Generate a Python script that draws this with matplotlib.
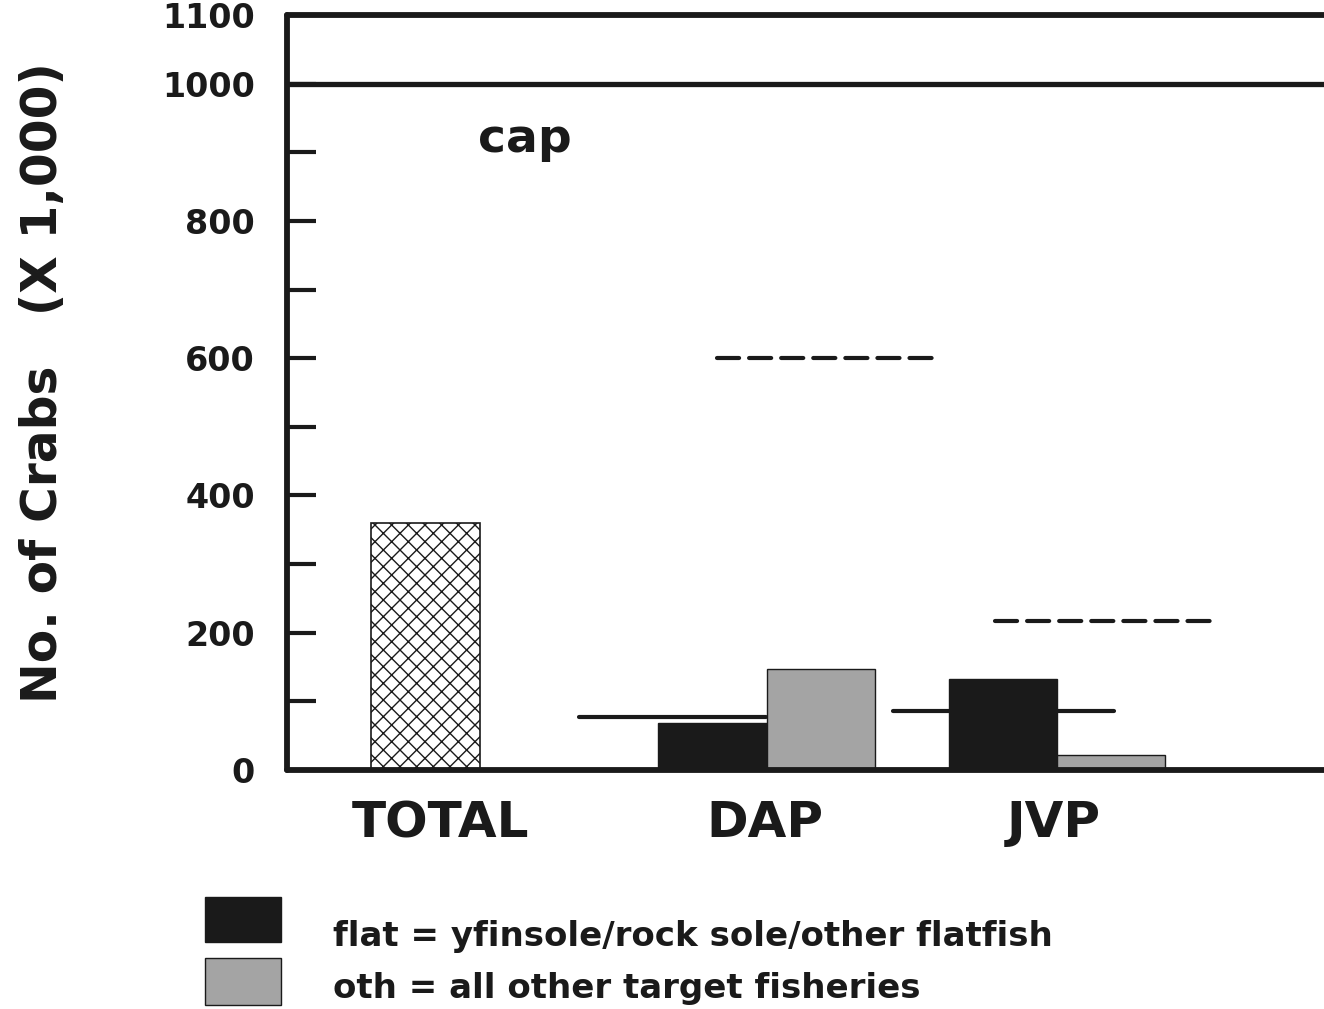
import matplotlib
matplotlib.use("Agg")
import matplotlib.pyplot as plt
from matplotlib.patches import Rectangle

# values (thousands of crabs)
groups = ["TOTAL", "DAP", "JVP"]
total_value = 360
flat_values = [68, 133]       # DAP, JVP
oth_values = [147, 22]        # DAP, JVP
solid_levels = [77, 86]       # DAP, JVP
dashed_levels = [600, 217]    # DAP, JVP
cap_value = 1000
legend_labels = ["flat = yfinsole/rock sole/other flatfish",
                 "oth = all other target fisheries"]

yticks_major = [0, 200, 400, 600, 800, 1000, 1100]
yticks_minor = [100, 300, 500, 700, 900]

# layout (x in bar-width units)
total_x = 1.28
pair_x = [4.43, 7.11]
label_x = [1.42, 4.41, 7.08]
solid_span = [(2.70, 4.42), (5.60, 7.64)]
dashed_span = [(3.97, 6.02), (6.54, 8.61)]
bw = 1.0

BLACK = "#1a1a1a"
GRAY = "#a4a4a4"
FONT = "DejaVu Sans"

plt.rcParams["font.family"] = FONT
plt.rcParams["font.weight"] = "bold"
plt.rcParams["hatch.linewidth"] = 1.0

fig = plt.figure(figsize=(13.24, 10.09), dpi=100)
ax = fig.add_axes([287 / 1324, 1 - 770 / 1009, 1 - 287 / 1324 + 0.01, 755 / 1009])

ax.bar(total_x, total_value, width=bw, color="white", edgecolor=BLACK,
       hatch="xx", linewidth=1.2, zorder=2)
for i, px in enumerate(pair_x):
    ax.bar(px - bw / 2, flat_values[i], width=bw, color=BLACK, edgecolor=BLACK,
           linewidth=1.0, zorder=2)
    ax.bar(px + bw / 2, oth_values[i], width=bw, color=GRAY, edgecolor=BLACK,
           linewidth=1.0, zorder=2)
    ax.plot(solid_span[i], [solid_levels[i]] * 2, color=BLACK, lw=3,
            solid_capstyle="round", zorder=3)
    ax.plot(dashed_span[i], [dashed_levels[i]] * 2, color=BLACK, lw=3,
            linestyle=(0, (5.3, 2.4)), dash_capstyle="round", zorder=3)

ax.axhline(cap_value, color=BLACK, lw=3.8, zorder=3)
ax.text(1.76, 901, "cap", fontsize=34, fontweight="bold", ha="left",
        va="baseline", color=BLACK)

ax.set_xlim(0, 9.7)
ax.set_ylim(0, 1100)

for s in ["left", "bottom", "top"]:
    ax.spines[s].set_linewidth(4.2)
    ax.spines[s].set_color(BLACK)
    ax.spines[s].set_capstyle("round")
ax.spines["right"].set_visible(False)

ax.set_yticks(yticks_major)
ax.set_yticklabels([str(v) for v in yticks_major], fontsize=24,
                   fontweight="bold", color=BLACK)
ax.set_yticks(yticks_minor, minor=True)
ax.tick_params(axis="y", which="both", direction="in", length=21, width=3,
               color=BLACK, pad=23)

ax.set_xticks(label_x)
ax.set_xticklabels(groups, fontsize=36, fontweight="bold", color=BLACK)
ax.tick_params(axis="x", length=0, pad=21)

fig.text(43 / 1324, 1 - 383 / 1009, "No. of Crabs   (X 1,000)", rotation=90,
         fontsize=35, fontweight="bold", ha="center", va="center", color=BLACK)

# legend
leg_colors = [BLACK, GRAY]
rect_y = [1 - 942 / 1009, 1 - 1005 / 1009]
rect_h = [45 / 1009, 47 / 1009]
text_y = [1 - 946 / 1009, 1 - 998 / 1009]
for i, lab in enumerate(legend_labels):
    fig.patches.append(Rectangle((205 / 1324, rect_y[i]), 76 / 1324, rect_h[i],
                                 transform=fig.transFigure, facecolor=leg_colors[i],
                                 edgecolor=BLACK, linewidth=1.0))
    fig.text(333 / 1324, text_y[i], lab, fontsize=24.5, fontweight="bold",
             ha="left", va="baseline", color=BLACK)

fig.savefig("out.png", dpi=100)
